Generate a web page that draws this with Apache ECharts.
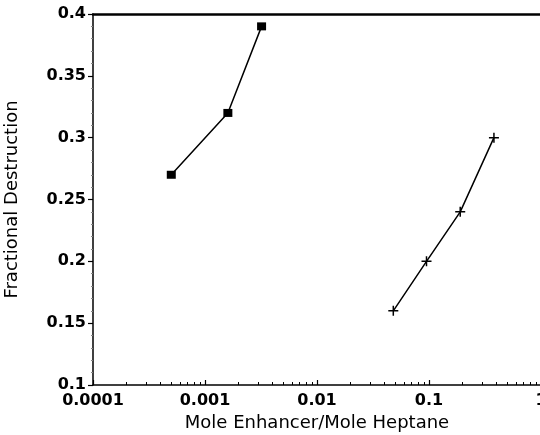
<!DOCTYPE html>
<html>
<head>
<meta charset="utf-8">
<script src="https://cdn.jsdelivr.net/npm/echarts@6/dist/echarts.min.js"></script>
<style>
  html, body { margin: 0; padding: 0; background: #fff; }
  #chart { width: 540px; height: 435px; }
</style>
</head>
<body>
<div id="chart"></div>
<script>
// squares series (left group)
const squareX = [0.0005, 0.0016, 0.0032];
const squareY = [0.27, 0.32, 0.39];
// plus series (right group)
const plusX = [0.048, 0.095, 0.19, 0.38];
const plusY = [0.16, 0.2, 0.24, 0.3];
const xTickLabels = ["0.0001", "0.001", "0.01", "0.1", "1"];
const yTickLabels = ["0.1", "0.15", "0.2", "0.25", "0.3", "0.35", "0.4"];

const plusPath = "path://M4,0h1.4v4h4v1.4h-4v4h-1.4v-4h-4v-1.4h4z";
const font = "DejaVu Sans, Verdana, sans-serif";

let myChart = echarts.init(document.getElementById("chart"));
let option = {
  animation: false,
  backgroundColor: "#fff",
  grid: {
    left: 93,
    right: -1,
    top: 14,
    bottom: 50,
    containLabel: false,
    outerBoundsMode: "none",
  },
  xAxis: [
    {
      type: "log",
      logBase: 10,
      min: 0.0001,
      max: 1,
      position: "bottom",
      name: "Mole Enhancer/Mole Heptane",
      nameLocation: "middle",
      nameGap: 29,
      nameTextStyle: { fontFamily: font, fontSize: 18, color: "#000" },
      axisLine: { lineStyle: { color: "#000", width: 1.5 } },
      axisTick: { inside: true, length: 5, lineStyle: { color: "#000", width: 1.2 } },
      minorTick: { show: true, splitNumber: 9, length: 3, lineStyle: { color: "#000", width: 1 } },
      axisLabel: {
        fontFamily: font,
        fontSize: 16,
        fontWeight: "bold",
        color: "#000",
        margin: 8,
        formatter: function (v, i) {
          return xTickLabels[i];
        },
      },
      splitLine: { show: false },
    },
    {
      type: "value",
      position: "top",
      min: 0,
      max: 1,
      axisLine: { show: true, lineStyle: { color: "#000", width: 2.5 } },
      axisTick: { show: false },
      axisLabel: { show: false },
      splitLine: { show: false },
    },
  ],
  yAxis: {
    type: "value",
    min: 0.1,
    max: 0.4,
    interval: 0.05,
    name: "Fractional Destruction",
    nameLocation: "middle",
    nameGap: 72,
    nameTextStyle: { fontFamily: font, fontSize: 18, color: "#000" },
    axisLine: { show: true, lineStyle: { color: "#000", width: 1.5 } },
    axisTick: { length: 5, lineStyle: { color: "#000", width: 1.2 } },
    minorTick: { show: true, splitNumber: 5, length: 2, lineStyle: { color: "#888", width: 1 } },
    axisLabel: {
      fontFamily: font,
      fontSize: 16,
      fontWeight: "bold",
      color: "#000",
      margin: 7,
      formatter: function (v, i) {
        return yTickLabels[i];
      },
    },
    splitLine: { show: false },
  },
  series: [
    {
      name: "squares",
      type: "line",
      xAxisIndex: 0,
      data: squareX.map((x, i) => [x, squareY[i]]),
      symbol: "rect",
      symbolSize: [9, 8],
      itemStyle: { color: "#000" },
      lineStyle: { color: "#000", width: 1.5 },
    },
    {
      name: "plus",
      type: "line",
      xAxisIndex: 0,
      data: plusX.map((x, i) => [x, plusY[i]]),
      symbol: plusPath,
      symbolSize: 10,
      itemStyle: { color: "#000" },
      lineStyle: { color: "#000", width: 1.5 },
    },
  ],
};
myChart.setOption(option);
</script>
</body>
</html>
